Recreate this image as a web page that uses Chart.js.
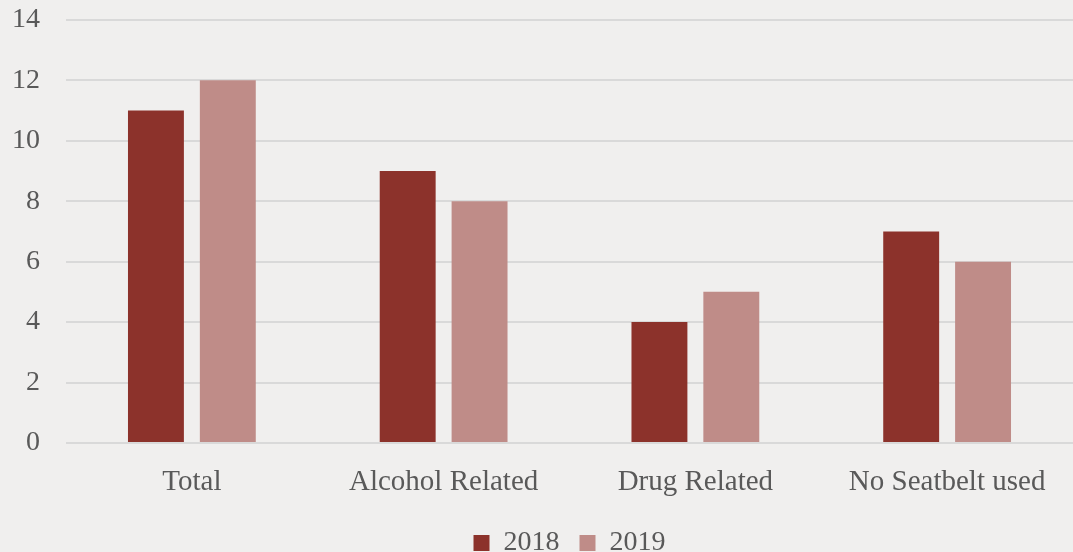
<!DOCTYPE html>
<html lang="en">
<head>
    <meta charset="UTF-8">
    <title>2018 vs 2019</title>
    <script src="https://cdn.jsdelivr.net/npm/chart.js@4.4.0/dist/chart.umd.min.js"></script>
    <style>
        html, body { margin: 0; padding: 0; background: #f0efee; overflow: hidden; }
        /* canvas overhangs the window a little so the top gridline sits high and the legend is cut off at the bottom */
        .chart-container { width: 1073px; height: 590px; margin-top: -23px; position: relative; }
    </style>
</head>
<body>
    <div class="chart-container">
        <canvas id="chart"></canvas>
    </div>

    <script>
        const categories = ['Total', 'Alcohol Related', 'Drug Related', 'No Seatbelt used'];
        const values2018 = [11, 9, 4, 7];
        const values2019 = [12, 8, 5, 6];
        const seriesLabels = ['2018', '2019'];

        const bgPlugin = {
            id: 'bg',
            beforeDraw(chart) {
                const ctx = chart.ctx;
                ctx.save();
                ctx.fillStyle = '#f0efee';
                ctx.fillRect(0, 0, chart.width, chart.height);
                ctx.restore();
            }
        };

        const font = "'Liberation Serif', 'Times New Roman', serif";

        new Chart(document.getElementById('chart'), {
            type: 'bar',
            data: {
                labels: categories,
                datasets: [
                    { label: seriesLabels[0], data: values2018, backgroundColor: '#8c322b' },
                    { label: seriesLabels[1], data: values2019, backgroundColor: '#bf8c88' }
                ]
            },
            options: {
                responsive: true,
                maintainAspectRatio: false,
                animation: false,
                layout: { padding: 0 },
                datasets: {
                    bar: { categoryPercentage: 0.571, barPercentage: 0.778 }
                },
                scales: {
                    x: {
                        grid: { display: false },
                        border: { display: false },
                        ticks: { color: '#595959', font: { family: font, size: 29 }, padding: 14 },
                        afterFit(scale) { scale.height = 66; }
                    },
                    y: {
                        min: 0,
                        max: 14,
                        ticks: { stepSize: 2, color: '#595959', font: { family: font, size: 28 }, padding: 26 },
                        grid: { color: '#d9d9d9', lineWidth: 2, drawTicks: false },
                        border: { display: false },
                        afterFit(scale) { scale.width = 66; }
                    }
                },
                plugins: {
                    legend: {
                        position: 'bottom',
                        fullSize: false,
                        labels: {
                            color: '#595959',
                            font: { family: font, size: 28 },
                            boxWidth: 16,
                            boxHeight: 16,
                            padding: 20
                        }
                    },
                    tooltip: { enabled: false }
                }
            },
            plugins: [bgPlugin]
        });
    </script>
</body>
</html>
